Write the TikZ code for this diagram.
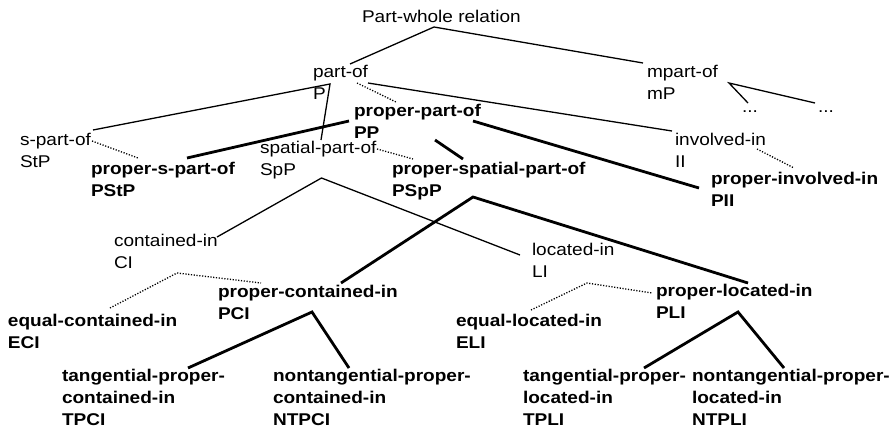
\documentclass[tikz,border=0pt]{standalone}
\usepackage{fontspec}
\setmainfont{Liberation Sans}[FakeStretch=1.12]
\begin{document}
\begin{tikzpicture}[x=1pt,y=-1pt,
  lbl/.style={anchor=north west,inner sep=0pt,outer sep=0pt,align=left,
    font=\fontsize{17}{22}\selectfont,execute at begin node={\rule{0pt}{12.5pt}}},
  blbl/.style={lbl,font=\fontsize{17}{22}\selectfont\bfseries},
  link/.style={line width=1.3pt},
  plink/.style={line width=2.8pt},
  dlink/.style={line width=1.3pt,dash pattern=on 1.2pt off 1.6pt}]
\useasboundingbox (0,0) rectangle (890,431);

% labels (placed by the top of their first line)
\node[lbl]  (root)     at (362,9.5)   {Part-whole relation};
\node[lbl]  (partof)   at (313,65.5)  {part-of\\P};
\node[lbl]  (mpartof)  at (647,65.5)  {mpart-of\\mP};
\node[lbl]  (dotsA)    at (742,99.5)  {...};
\node[lbl]  (dotsB)    at (818,99.5)  {...};
\node[lbl]  (spartof)  at (20,133.5)  {s-part-of\\StP};
\node[blbl] (pp)       at (354,104.5) {proper-part-of\\PP};
\node[lbl]  (spatial)  at (260,141.5) {spatial-part-of\\SpP};
\node[lbl]  (involved) at (675,133.5) {involved-in\\II};
\node[blbl] (pstp)     at (91,162.5)  {proper-s-part-of\\PStP};
\node[blbl] (pspp)     at (392,162.5) {proper-spatial-part-of\\PSpP};
\node[blbl] (pii)      at (711,172.5) {proper-involved-in\\PII};
\node[lbl]  (ci)       at (114,234.5) {contained-in\\CI};
\node[lbl]  (li)       at (532,243.5) {located-in\\LI};
\node[blbl] (pci)      at (218,285.5) {proper-contained-in\\PCI};
\node[blbl] (pli)      at (656,284.5) {proper-located-in\\PLI};
\node[blbl] (eci)      at (8,314.5)   {equal-contained-in\\ECI};
\node[blbl] (eli)      at (456,314.5) {equal-located-in\\ELI};
\node[blbl] (tpci)     at (62,369.5)  {tangential-proper-\\contained-in\\TPCI};
\node[blbl] (ntpci)    at (273,369.5) {nontangential-proper-\\contained-in\\NTPCI};
\node[blbl] (tpli)     at (523,369.5) {tangential-proper-\\located-in\\TPLI};
\node[blbl] (ntpli)    at (692,369.5) {nontangential-proper-\\located-in\\NTPLI};

% junction and end points of the connectors
\coordinate (root-j)     at (434,27);
\coordinate (partof-up)  at (350,64);
\coordinate (mpartof-up) at (643,63);
\coordinate (partof-j)   at (330,84);
\coordinate (partof-r)   at (368,83);
\coordinate (partof-d)   at (357,83);
\coordinate (spartof-up) at (93,130);
\coordinate (spartof-r)  at (92,141);
\coordinate (spatial-up) at (321,140);
\coordinate (involved-up) at (672,131);
\coordinate (involved-r) at (757,149);
\coordinate (pp-in)      at (396,102);
\coordinate (pp-l)       at (349,121);
\coordinate (pp-m)       at (435,140);
\coordinate (pp-r)       at (473,121);
\coordinate (pstp-up)    at (187,158);
\coordinate (pstp-in)    at (138,158);
\coordinate (pspp-up)    at (463,159);
\coordinate (pspp-in)    at (413,159);
\coordinate (pii-up)     at (699,188);
\coordinate (pii-in)     at (794,168);
\coordinate (spatial-r)  at (377,149);
\coordinate (mpartof-j)  at (729,83);
\coordinate (dotsA-up)   at (748,103);
\coordinate (dotsB-up)   at (815,103);
\coordinate (spatial-j)  at (321.5,178);
\coordinate (ci-up)      at (217,237);
\coordinate (li-up)      at (520,255);
\coordinate (pspp-j)     at (473,197);
\coordinate (pci-up)     at (341,283);
\coordinate (pli-up)     at (748,283);
\coordinate (ci-j)       at (177,273);
\coordinate (eci-up)     at (110,308);
\coordinate (pci-in)     at (261,283);
\coordinate (li-j)       at (587,283);
\coordinate (eli-up)     at (531,310);
\coordinate (pli-in)     at (652,293);
\coordinate (pci-j)      at (312,312);
\coordinate (tpci-up)    at (188,368);
\coordinate (ntpci-up)   at (349,368);
\coordinate (pli-j)      at (738,312);
\coordinate (tpli-up)    at (644,368);
\coordinate (ntpli-up)   at (784,368);

% plain relations
\draw[link] (partof-up) -- (root-j) -- (mpartof-up);
\draw[link] (spartof-up) -- (partof-j) -- (spatial-up);
\draw[link] (partof-r) -- (involved-up);
\draw[link] (dotsA-up) -- (mpartof-j) -- (dotsB-up);
\draw[link] (ci-up) -- (spatial-j) -- (li-up);

% proper relations
\draw[plink] (pp-l) -- (pstp-up);
\draw[plink] (pp-m) -- (pspp-up);
\draw[plink] (pp-r) -- (pii-up);
\draw[plink] (pci-up) -- (pspp-j) -- (pli-up);
\draw[plink] (tpci-up) -- (pci-j) -- (ntpci-up);
\draw[plink] (tpli-up) -- (pli-j) -- (ntpli-up);

% links to the proper variants
\draw[dlink] (partof-d) -- (pp-in);
\draw[dlink] (spartof-r) -- (pstp-in);
\draw[dlink] (spatial-r) -- (pspp-in);
\draw[dlink] (involved-r) -- (pii-in);
\draw[dlink] (eci-up) -- (ci-j) -- (pci-in);
\draw[dlink] (eli-up) -- (li-j) -- (pli-in);
\end{tikzpicture}
\end{document}
